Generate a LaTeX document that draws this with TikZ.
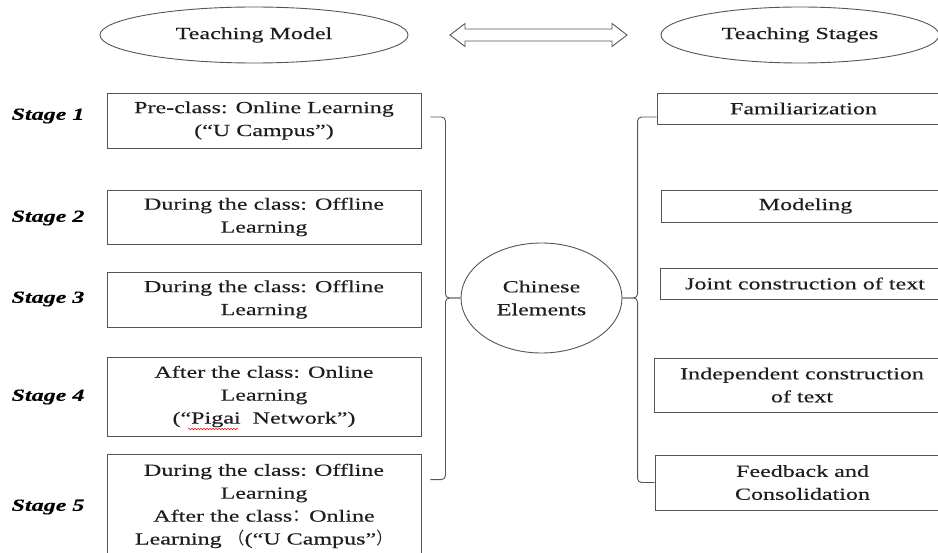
\documentclass[tikz,border=0pt]{standalone}
\usepackage{fontspec}
\setmainfont{Liberation Serif}[FakeStretch=1.42,FakeBold=0.35]
\newfontfamily\cjkfont{Noto Sans CJK SC}
\usetikzlibrary{shapes.geometric,decorations.pathmorphing}
\definecolor{edge}{RGB}{85,85,85}
\definecolor{ink}{RGB}{30,30,30}

\begin{document}
\begin{tikzpicture}[x=1bp,y=-1bp,
  every node/.style={font=\fontsize{17}{23}\selectfont,text=ink,align=center,inner sep=0pt},
  oval/.style={ellipse,draw=edge,line width=0.9bp},
  boxL/.style={draw=edge,line width=0.9bp,minimum width=314bp},
  boxR/.style={draw=edge,line width=0.9bp,minimum width=293bp},
  stagelbl/.style={font=\fontsize{17}{23}\selectfont\bfseries\itshape,text=black},
  brk/.style={draw=edge,line width=0.9bp,rounded corners=4bp}]
\useasboundingbox (0,0) rectangle (938,553);

% headings
\node[oval,minimum width=308bp,minimum height=56bp] (tm) at (254,35) {Teaching Model};
\node[oval,minimum width=278bp,minimum height=56bp] (ts) at (800,35) {Teaching Stages};
\draw[edge,line width=0.9bp,fill=white] (450,35) -- (465,23.5) -- (465,29) -- (612,29) -- (612,23.5)
  -- (627,35) -- (612,46.5) -- (612,41) -- (465,41) -- (465,46.5) -- cycle;

% teaching model
\node[stagelbl] (s1) at (48,116) {Stage 1};
\node[stagelbl] (s2) at (48,218) {Stage 2};
\node[stagelbl] (s3) at (48,299) {Stage 3};
\node[stagelbl] (s4) at (48,397) {Stage 4};
\node[stagelbl] (s5) at (48,507) {Stage 5};
\node[boxL,minimum height=55bp] (m1) at (264,120.5) {Pre-class: Online Learning\\(“U Campus”)};
\node[boxL,minimum height=54bp] (m2) at (264,217) {During the class: Offline\\Learning};
\node[boxL,minimum height=55bp] (m3) at (264,299.5) {During the class: Offline\\Learning};
\node[boxL,minimum height=79bp] (m4) at (264,396.5) {After the class: Online\\Learning\\(“Pigai\ \ Network”)};
\node[boxL,minimum height=104bp] (m5) at (264,506) {During the class: Offline\\Learning\\After the class{\cjkfont ：}Online\\Learning\ {\cjkfont （}(“U Campus”{\cjkfont ）}};
\draw[red,line width=0.5bp,decorate,decoration={snake,amplitude=0.7bp,segment length=3bp}] (188,429) -- (238,429);

% centre
\node[oval,minimum width=161bp,minimum height=110bp] (ce) at (541.5,298) {Chinese\\Elements};

% teaching stages
\node[boxR,minimum height=31bp] (r1) at (803.5,108.5) {Familiarization};
\node[boxR,minimum width=289bp,minimum height=32bp] (r2) at (805.5,206) {Modeling};
\node[boxR,minimum width=290bp,minimum height=31bp] (r3) at (805,283.5) {Joint construction of text};
\node[boxR,minimum width=296bp,minimum height=54bp] (r4) at (802,385) {Independent construction\\of text};
\node[boxR,minimum width=295bp,minimum height=55bp] (r5) at (802.5,482.5) {Feedback and\\Consolidation};

% brackets
\draw[brk] ([xshift=9bp,yshift=3.5bp]m1.east) -- ++(15,0) |- (ce.west);
\draw[brk] (ce.west) -| ([xshift=24bp,yshift=-26bp]m5.north east) -- ++(-15,0);
\draw[brk] ([yshift=-8.5bp]r1.west) -- ++(-19,0) |- (ce.east);
\draw[brk] (ce.east) -| ([xshift=-17bp]r5.west) -- (r5.west);
\end{tikzpicture}
\end{document}
